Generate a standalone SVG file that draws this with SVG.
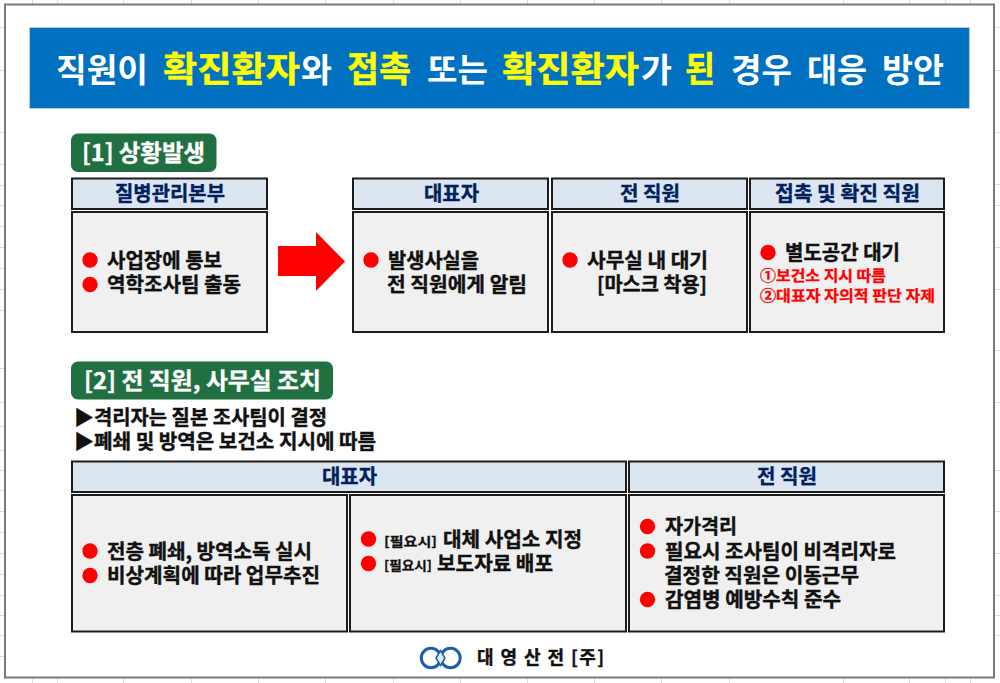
<svg xmlns="http://www.w3.org/2000/svg" width="1000" height="683" viewBox="0 0 1000 683">
<style>
text{font-family:"Noto Sans CJK KR","Noto Sans",sans-serif;font-weight:700}
.hd{fill:#dce6f1;stroke:#1c1c1c;stroke-width:2}
.bd{fill:#f0f0f0;stroke:#1c1c1c;stroke-width:2}
.ht{fill:#002060;stroke:#002060;stroke-width:.35px;font-size:20px;text-anchor:middle}
.bt{fill:#111;stroke:#111;stroke-width:.4px;font-size:20px}
.sm{fill:#111;stroke:#111;stroke-width:.3px;font-size:13px}
.rd{fill:#f00;stroke:#f00;stroke-width:.3px;font-size:15px}
.bg{fill:#217041}
.bgt{fill:#fff;stroke:#fff;stroke-width:.3px;font-size:23px}
.w{fill:#fff;font-size:33px}
.y{fill:#ff0;stroke:#ff0;stroke-width:.4px;font-size:35px}
.dot{fill:#f00}
.tick{stroke:#dcdcdc;stroke-width:1}
</style>
<rect width="1000" height="683" fill="#fff"/>
<g id="sheet-grid" class="tick">
<path d="M32.500 0V4M57.500 0V4M123.500 0V4M191.500 0V4M258.500 0V4M325.500 0V4M393.500 0V4M460.500 0V4M527.500 0V4M594.500 0V4M661.500 0V4M729.500 0V4M843.500 0V4M909.500 0V4M945.500 0V4M970.500 0V4"/>
<path d="M32.500 678V683M57.500 678V683M123.500 678V683M191.500 678V683M258.500 678V683M325.500 678V683M393.500 678V683M460.500 678V683M527.500 678V683M594.500 678V683M661.500 678V683M729.500 678V683M843.500 678V683M909.500 678V683M945.500 678V683M970.500 678V683"/>
<path d="M0 27.500H4M0 70.500H4M0 132.500H4M0 164.500H4M0 185.500H4M0 205.500H4M0 226.500H4M0 247.500H4M0 268.500H4M0 289.500H4M0 310.500H4M0 368.500H4M0 402.500H4M0 426.500H4M0 450.500H4M0 470.500H4M0 490.500H4M0 511.500H4M0 532.500H4M0 553.500H4M0 574.500H4M0 595.500H4M0 615.500H4M0 635.500H4M0 656.500H4"/>
<path d="M995 27.500H1000M995 70.500H1000M995 132.500H1000M995 184.500H1000M995 205.500H1000M995 247.500H1000M995 289.500H1000M995 350.500H1000M995 402.500H1000M995 470.500H1000M995 511.500H1000M995 553.500H1000M995 595.500H1000M995 615.500H1000M995 635.500H1000"/>
</g>
<rect id="frame" x="5" y="4.500" width="989" height="673" fill="#fff" stroke="#7a7a7a" stroke-width="2"/>
<g id="title">
<rect x="29.500" y="27.500" width="940" height="81" fill="#0070c0" stroke="#c4ccd4" stroke-width="1"/>
<text class="w" x="56" y="81.500" textLength="92" lengthAdjust="spacingAndGlyphs">직원이</text>
<text class="y" x="163" y="81.500" textLength="137" lengthAdjust="spacingAndGlyphs">확진환자</text>
<text class="w" x="301" y="81.500" textLength="31" lengthAdjust="spacingAndGlyphs">와</text>
<text class="y" x="347" y="81.500" textLength="64" lengthAdjust="spacingAndGlyphs">접촉</text>
<text class="w" x="427" y="81.500" textLength="61" lengthAdjust="spacingAndGlyphs">또는</text>
<text class="y" x="502" y="81.500" textLength="137" lengthAdjust="spacingAndGlyphs">확진환자</text>
<text class="w" x="641" y="81.500" textLength="31" lengthAdjust="spacingAndGlyphs">가</text>
<text class="y" x="685" y="81.500" textLength="30" lengthAdjust="spacingAndGlyphs">된</text>
<text class="w" x="731" y="81.500" textLength="61" lengthAdjust="spacingAndGlyphs">경우</text>
<text class="w" x="807" y="81.500" textLength="60" lengthAdjust="spacingAndGlyphs">대응</text>
<text class="w" x="882" y="81.500" textLength="62" lengthAdjust="spacingAndGlyphs">방안</text>
</g>
<g id="badge-1"><rect class="bg" x="71" y="133.500" width="145.500" height="38.500" rx="7"/><text class="bgt" x="82" y="160.500" textLength="123" lengthAdjust="spacingAndGlyphs">[1] 상황발생</text></g>
<g id="kcdc"><rect class="hd" x="72" y="178.500" width="195" height="30.500"/><text class="ht" x="170" y="201" textLength="110" lengthAdjust="spacingAndGlyphs">질병관리본부</text>
<rect class="bd" x="72" y="212" width="195" height="120"/><circle class="dot" cx="90" cy="260" r="7.700"/><circle class="dot" cx="90" cy="284.500" r="7.700"/>
<text class="bt" x="107" y="267.500" textLength="115" lengthAdjust="spacingAndGlyphs">사업장에 통보</text><text class="bt" x="107" y="291.500" textLength="134" lengthAdjust="spacingAndGlyphs">역학조사팀 출동</text></g>
<g id="ceo-1"><rect class="hd" x="353" y="178.500" width="195" height="30.500"/><text class="ht" x="451.500" y="201" textLength="55" lengthAdjust="spacingAndGlyphs">대표자</text>
<rect class="bd" x="353" y="212" width="195" height="120"/><circle class="dot" cx="371" cy="260" r="7.700"/>
<text class="bt" x="388" y="267.500" textLength="91" lengthAdjust="spacingAndGlyphs">발생사실을</text><text class="bt" x="387" y="291.500" textLength="140" lengthAdjust="spacingAndGlyphs">전 직원에게 알림</text></g>
<g id="staff-1"><rect class="hd" x="552" y="178.500" width="195" height="30.500"/><text class="ht" x="650" y="201" textLength="60" lengthAdjust="spacingAndGlyphs">전 직원</text>
<rect class="bd" x="552" y="212" width="195" height="120"/><circle class="dot" cx="570" cy="260" r="7.700"/>
<text class="bt" x="587" y="267.500" textLength="121" lengthAdjust="spacingAndGlyphs">사무실 내 대기</text><text class="bt" x="597" y="291.500" textLength="110" lengthAdjust="spacingAndGlyphs">[마스크 착용]</text></g>
<g id="contact-1"><rect class="hd" x="750" y="178.500" width="194" height="30.500"/><text class="ht" x="847.500" y="201" textLength="145" lengthAdjust="spacingAndGlyphs">접촉 및 확진 직원</text>
<rect class="bd" x="750" y="212" width="194" height="120"/><circle class="dot" cx="768" cy="252.500" r="7.700"/>
<text class="bt" x="785" y="260" textLength="115" lengthAdjust="spacingAndGlyphs">별도공간 대기</text>
<text class="rd" x="760" y="281" textLength="126" lengthAdjust="spacingAndGlyphs">①보건소 지시 따름</text><text class="rd" x="760" y="300.500" textLength="175" lengthAdjust="spacingAndGlyphs">②대표자 자의적 판단 자제</text></g>
<g id="connectors"><polygon points="278,246 316,246 316,232 345,261.500 316,291 316,276 278,276" fill="#f00"/></g>
<g id="badge-2"><rect class="bg" x="71" y="361.500" width="262" height="38" rx="7"/><text class="bgt" x="84" y="388.500" textLength="237" lengthAdjust="spacingAndGlyphs">[2] 전 직원, 사무실 조치</text></g>
<g id="notes"><text class="bt" x="74" y="425" textLength="253" lengthAdjust="spacingAndGlyphs">▶격리자는 질본 조사팀이 결정</text><text class="bt" x="74" y="449" textLength="302" lengthAdjust="spacingAndGlyphs">▶폐쇄 및 방역은 보건소 지시에 따름</text></g>
<g id="ceo-2"><rect class="hd" x="72" y="461.500" width="554" height="30.500"/><text class="ht" x="349.500" y="484" textLength="55" lengthAdjust="spacingAndGlyphs">대표자</text>
<rect class="bd" x="72" y="495" width="275" height="136.500"/><circle class="dot" cx="90" cy="551" r="7.700"/><circle class="dot" cx="90" cy="575.500" r="7.700"/>
<text class="bt" x="107" y="558.500" textLength="205" lengthAdjust="spacingAndGlyphs">전층 폐쇄, 방역소독 실시</text><text class="bt" x="107" y="582.500" textLength="213" lengthAdjust="spacingAndGlyphs">비상계획에 따라 업무추진</text>
<rect class="bd" x="350" y="495" width="276" height="136.500"/><circle class="dot" cx="368.500" cy="539" r="7.700"/><circle class="dot" cx="368.500" cy="563.500" r="7.700"/>
<text class="sm" x="384" y="545.500" textLength="53" lengthAdjust="spacingAndGlyphs">[필요시]</text><text class="bt" x="443" y="546.500" textLength="139" lengthAdjust="spacingAndGlyphs">대체 사업소 지정</text>
<text class="sm" x="384" y="570" textLength="48" lengthAdjust="spacingAndGlyphs">[필요시]</text><text class="bt" x="437" y="570.500" textLength="116" lengthAdjust="spacingAndGlyphs">보도자료 배포</text></g>
<g id="staff-2"><rect class="hd" x="629" y="461.500" width="315" height="30.500"/><text class="ht" x="787" y="484" textLength="60" lengthAdjust="spacingAndGlyphs">전 직원</text>
<rect class="bd" x="629" y="495" width="315" height="136.500"/><circle class="dot" cx="647.500" cy="526.500" r="7.700"/><circle class="dot" cx="647.500" cy="551" r="7.700"/><circle class="dot" cx="647.500" cy="599.500" r="7.700"/>
<text class="bt" x="665" y="534" textLength="72" lengthAdjust="spacingAndGlyphs">자가격리</text><text class="bt" x="665" y="558.500" textLength="231" lengthAdjust="spacingAndGlyphs">필요시 조사팀이 비격리자로</text><text class="bt" x="664" y="582.500" textLength="195" lengthAdjust="spacingAndGlyphs">결정한 직원은 이동근무</text><text class="bt" x="665" y="606.500" textLength="176" lengthAdjust="spacingAndGlyphs">감염병 예방수칙 준수</text></g>
<g id="logo"><ellipse cx="431" cy="658" rx="9.700" ry="9.700" fill="none" stroke="#1c5ea8" stroke-width="3"/><ellipse cx="450.500" cy="658" rx="9.700" ry="9.700" fill="none" stroke="#1c5ea8" stroke-width="3"/><path d="M440.500 650.500L445 658L440.500 665.500L436 658Z" fill="#dce8f4" stroke="#1c5ea8" stroke-width="1.500"/>
<text x="477" y="664" font-size="18" fill="#111" stroke="#111" stroke-width=".4" textLength="127" lengthAdjust="spacing">대 영 산 전 [주]</text></g>
</svg>
